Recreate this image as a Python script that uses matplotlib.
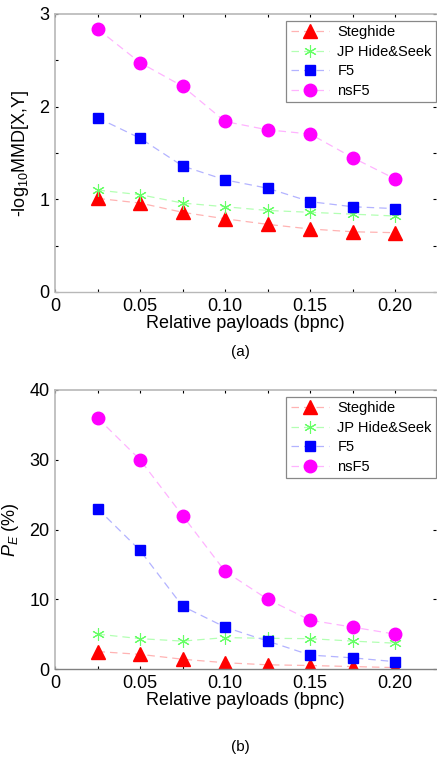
import matplotlib
matplotlib.use("Agg")
import matplotlib.pyplot as plt
from matplotlib.ticker import FixedLocator, FixedFormatter

plt.rcParams['font.family'] = ['Liberation Sans', 'DejaVu Sans']
plt.rcParams['mathtext.fontset'] = 'custom'
plt.rcParams['mathtext.rm'] = 'Liberation Sans'
plt.rcParams['mathtext.it'] = 'Liberation Sans:italic'

payloads = [0.025, 0.05, 0.075, 0.10, 0.125, 0.15, 0.175, 0.20]
series_names = ["Steghide", "JP Hide&Seek", "F5", "nsF5"]

# -log10 MMD[X,Y]
mmd_steghide = [1.01, 0.96, 0.86, 0.79, 0.73, 0.68, 0.65, 0.64]
mmd_jphs = [1.10, 1.05, 0.96, 0.92, 0.88, 0.86, 0.84, 0.82]
mmd_f5 = [1.88, 1.66, 1.36, 1.21, 1.12, 0.975, 0.92, 0.90]
mmd_nsf5 = [2.84, 2.475, 2.22, 1.84, 1.75, 1.705, 1.45, 1.22]

# P_E (%)
pe_steghide = [2.5, 2.1, 1.4, 0.9, 0.6, 0.5, 0.35, 0.2]
pe_jphs = [5.0, 4.35, 4.0, 4.5, 4.4, 4.35, 4.0, 3.7]
pe_f5 = [23, 17, 9, 6, 4, 2, 1.6, 1.05]
pe_nsf5 = [36, 30, 22, 14, 10, 7, 6, 5]

x_major = [0, 0.05, 0.10, 0.15, 0.20]
x_labels = ["0", "0.05", "0.10", "0.15", "0.20"]
x_minor = [0.025, 0.075, 0.125, 0.175]

styles = [
    dict(marker='^', color='#ffb3b3', mfc='red', mec='red', ms=9.5),
    dict(marker=(6, 2, 0), color='#b3ffb3', mfc='#66ff66', mec='#66ff66', ms=9, mew=0.8),
    dict(marker='s', color='#b3b3ff', mfc='blue', mec='blue', ms=7),
    dict(marker='o', color='#ffb3ff', mfc='magenta', mec='magenta', ms=9),
]

fig = plt.figure(figsize=(4.37, 7.58), dpi=100)
W, H = 437, 758


def make_axes(top_px, bottom_px):
    left = 55 / W
    right = 436 / W
    return fig.add_axes([left, 1 - bottom_px / H, right - left, (bottom_px - top_px) / H])


def style_axes(ax, ymax, ymajor, yminor, bottom_color):
    ax.set_xlim(0, 0.224)
    ax.set_ylim(0, ymax)
    ax.xaxis.set_major_locator(FixedLocator(x_major))
    ax.xaxis.set_major_formatter(FixedFormatter(x_labels))
    ax.xaxis.set_minor_locator(FixedLocator(x_minor))
    ax.yaxis.set_major_locator(FixedLocator(ymajor))
    ax.yaxis.set_minor_locator(FixedLocator(yminor))
    ax.tick_params(which='both', direction='in', length=2, width=0.8, color='black',
                   top=True, right=True, labelsize=13)
    ax.tick_params(axis='x', pad=4)
    ax.tick_params(axis='y', pad=4)
    for side in ('left', 'top'):
        ax.spines[side].set_color('#b8b8b8')
        ax.spines[side].set_linewidth(1.2)
    ax.spines['bottom'].set_color(bottom_color)
    ax.spines['bottom'].set_linewidth(1.0)
    ax.spines['right'].set_visible(False)
    ax.set_xlabel("Relative payloads (bpnc)", fontsize=13, labelpad=0)


def draw(ax, data):
    for name, ys, st in zip(series_names, data, styles):
        ax.plot(payloads, ys, linestyle=(0, (6, 4)), linewidth=0.9, label=name,
                clip_on=True, **st)
    leg = ax.legend(loc='upper right', bbox_to_anchor=(1.0, 0.975), borderaxespad=0,
                    fontsize=10.5, fancybox=False, framealpha=1, edgecolor='#888888',
                    handlelength=2.6, handletextpad=0.6, labelspacing=0.38,
                    borderpad=0.3)
    leg.get_frame().set_linewidth(0.9)


ax1 = make_axes(14, 292)
draw(ax1, [mmd_steghide, mmd_jphs, mmd_f5, mmd_nsf5])
style_axes(ax1, 3, [0, 1, 2, 3], [0.5, 1.5, 2.5], '#b8b8b8')
ax1.set_ylabel("-log$_{10}$MMD[X,Y]", fontsize=13, labelpad=6)

ax2 = make_axes(390, 669)
draw(ax2, [pe_steghide, pe_jphs, pe_f5, pe_nsf5])
style_axes(ax2, 40, [0, 10, 20, 30, 40], [], '#808080')
ax2.set_ylabel("$P_E$ (%)", fontsize=13, labelpad=6)

fig.text(240 / W, 1 - 352 / H, "(a)", ha='center', va='center', fontsize=11)
fig.text(240 / W, 1 - 747 / H, "(b)", ha='center', va='center', fontsize=11)

fig.savefig("out.png", dpi=100)
